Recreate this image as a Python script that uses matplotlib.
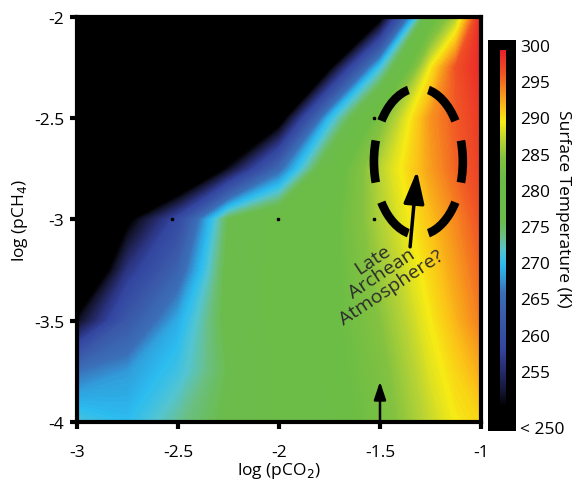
import numpy as np
import matplotlib
matplotlib.use('Agg')
import matplotlib.pyplot as plt
from matplotlib.colors import LinearSegmentedColormap, Normalize
from matplotlib.patches import Ellipse

plt.rcParams['font.family'] = ['Open Sans', 'DejaVu Sans']

# Grid of the model runs (log partial pressures)
log_pco2 = [-3.0, -2.75, -2.5, -2.25, -2.0, -1.75, -1.5, -1.25, -1.125, -1.0]
log_pch4 = [-4.0, -3.75, -3.5, -3.25, -3.0, -2.75, -2.5, -2.25, -2.0]

# Surface temperature (K), rows follow log_pch4, columns follow log_pco2
temp = [
    [271.5, 270.0, 273.5, 276.5, 279.0, 280.5, 283.5, 288.0, 290.0, 291.0],
    [266.0, 268.0, 271.0, 276.0, 279.5, 281.0, 284.0, 289.0, 291.0, 293.0],
    [251.0, 262.0, 269.0, 277.0, 280.0, 281.0, 285.0, 290.0, 292.5, 295.0],
    [240.0, 256.0, 264.0, 277.0, 280.0, 281.0, 286.0, 291.0, 293.5, 296.0],
    [230.0, 249.0, 259.0, 276.0, 280.0, 281.0, 287.0, 292.0, 294.5, 297.0],
    [220.0, 230.0, 240.0, 251.0, 265.0, 279.5, 287.5, 293.5, 296.0, 298.0],
    [210.0, 220.0, 230.0, 240.0, 247.0, 270.0, 284.0, 294.0, 296.5, 298.5],
    [200.0, 210.0, 220.0, 230.0, 240.0, 249.0, 271.0, 290.0, 297.0, 299.5],
    [190.0, 200.0, 210.0, 220.0, 230.0, 240.0, 248.0, 280.0, 287.0, 300.0],
]

# model points marked with dots
dot_co2 = [-2.53, -2.005, -1.53, -1.53]
dot_ch4 = [-3.0, -3.0, -3.0, -2.5]

cbar_ticks = [255, 260, 265, 270, 275, 280, 285, 290, 295, 300]

# colour scale: black below 250 through blue, cyan, green, yellow to red
t_lo, t_hi = 250.0, 300.0
nodes = [
    (250.0, '#000000'), (252.0, '#141530'), (255.0, '#262c6e'),
    (258.0, '#3345a0'), (262.0, '#3a58a8'), (266.0, '#3b6fb8'),
    (268.5, '#2fa4df'), (270.0, '#2cbdf0'), (272.0, '#55c4d0'),
    (274.0, '#6abf80'), (276.0, '#6bbc4c'), (282.0, '#6cbd45'),
    (285.0, '#84c240'), (287.5, '#b8d334'), (290.0, '#f6eb14'),
    (292.0, '#fbc117'), (294.0, '#f7941d'), (296.5, '#f15a24'),
    (300.0, '#e8212a'),
]
cmap = LinearSegmentedColormap.from_list(
    'surf', [((t - t_lo) / (t_hi - t_lo), c) for t, c in nodes], N=512)
cmap.set_under('#000000')
cmap.set_over('#e8212a')
norm = Normalize(t_lo, t_hi)

fig = plt.figure(figsize=(5.75, 4.81), dpi=100)
ax = fig.add_axes([0.1339, 0.1206, 0.7026, 0.842])

X, Y = np.meshgrid(log_pco2, log_pch4)
levels = np.linspace(t_lo, t_hi, 201)
ax.contourf(X, Y, np.array(temp), levels=levels, cmap=cmap, norm=norm,
            extend='both', antialiased=False)

ax.plot(dot_co2, dot_ch4, 's', color='black', markersize=1.6)

# dashed ellipse around the likely late Archean atmosphere
# (path starts at the bottom, so the offset centres a gap there)
on, off = 4.9, 2.38
ax.add_patch(Ellipse((-1.31, -2.714), 0.44, 0.726, fill=False,
                     edgecolor='black', lw=6.2,
                     linestyle=(on + off / 2, (on, off))))

ax.annotate('', xy=(-1.317, -2.76), xytext=(-1.351, -3.135),
            arrowprops=dict(arrowstyle='-|>,head_length=1.1,head_width=0.35',
                            lw=2.5, color='black', mutation_scale=18,
                            shrinkA=0, shrinkB=0))
ax.annotate('', xy=(-1.5, -3.80), xytext=(-1.5, -4.0),
            arrowprops=dict(arrowstyle='-|>,head_length=0.9,head_width=0.3',
                            lw=1.8, color='black', mutation_scale=12,
                            shrinkA=0, shrinkB=0))

ax.text(-1.49, -3.265, 'Late\nArchean\nAtmosphere?', rotation=33.5,
        rotation_mode='anchor', ha='center', va='center',
        multialignment='center', fontsize=14, color='#2b2b2b',
        linespacing=0.92)

ax.set_xlim(-3, -1)
ax.set_ylim(-4, -2)
ax.set_xticks([-3, -2.5, -2, -1.5, -1])
ax.set_xticklabels(['-3', '-2.5', '-2', '-1.5', '-1'])
ax.set_yticks([-4, -3.5, -3, -2.5, -2])
ax.set_yticklabels(['-4', '-3.5', '-3', '-2.5', '-2'])
ax.tick_params(direction='out', length=5, width=3, labelsize=12.5)
ax.tick_params(axis='x', pad=11)
ax.tick_params(axis='y', pad=4)
for s in ax.spines.values():
    s.set_linewidth(3)
ax.set_xlabel('log (pCO$_2$)', fontsize=12.5, labelpad=0)
ax.set_ylabel('log (pCH$_4$)', fontsize=12.5, labelpad=3)

# colour bar: thin gradient stripe inside a black box
cax = fig.add_axes([0.8487, 0.1019, 0.0487, 0.8129])
cax.set_facecolor('black')
cax.set_xlim(0, 1)
cax.set_ylim(246.69, 300.69)
grad = np.linspace(t_lo, t_hi, 300).reshape(-1, 1)
cax.imshow(grad, cmap=cmap, norm=norm, origin='lower', aspect='auto',
           extent=[0.43, 0.61, t_lo, 299.2], interpolation='bilinear')
cax.set_xticks([])
cax.yaxis.tick_right()
cax.set_yticks(cbar_ticks + [247.2])
cax.set_yticklabels([str(t) for t in cbar_ticks] + ['< 250'])
cax.tick_params(axis='y', length=0, labelsize=12.5, pad=3)
for s in cax.spines.values():
    s.set_visible(False)
fig.text(0.979, 0.565, 'Surface Temperature (K)', rotation=270,
         ha='center', va='center', fontsize=12.5)

fig.savefig('out.png', dpi=100)
